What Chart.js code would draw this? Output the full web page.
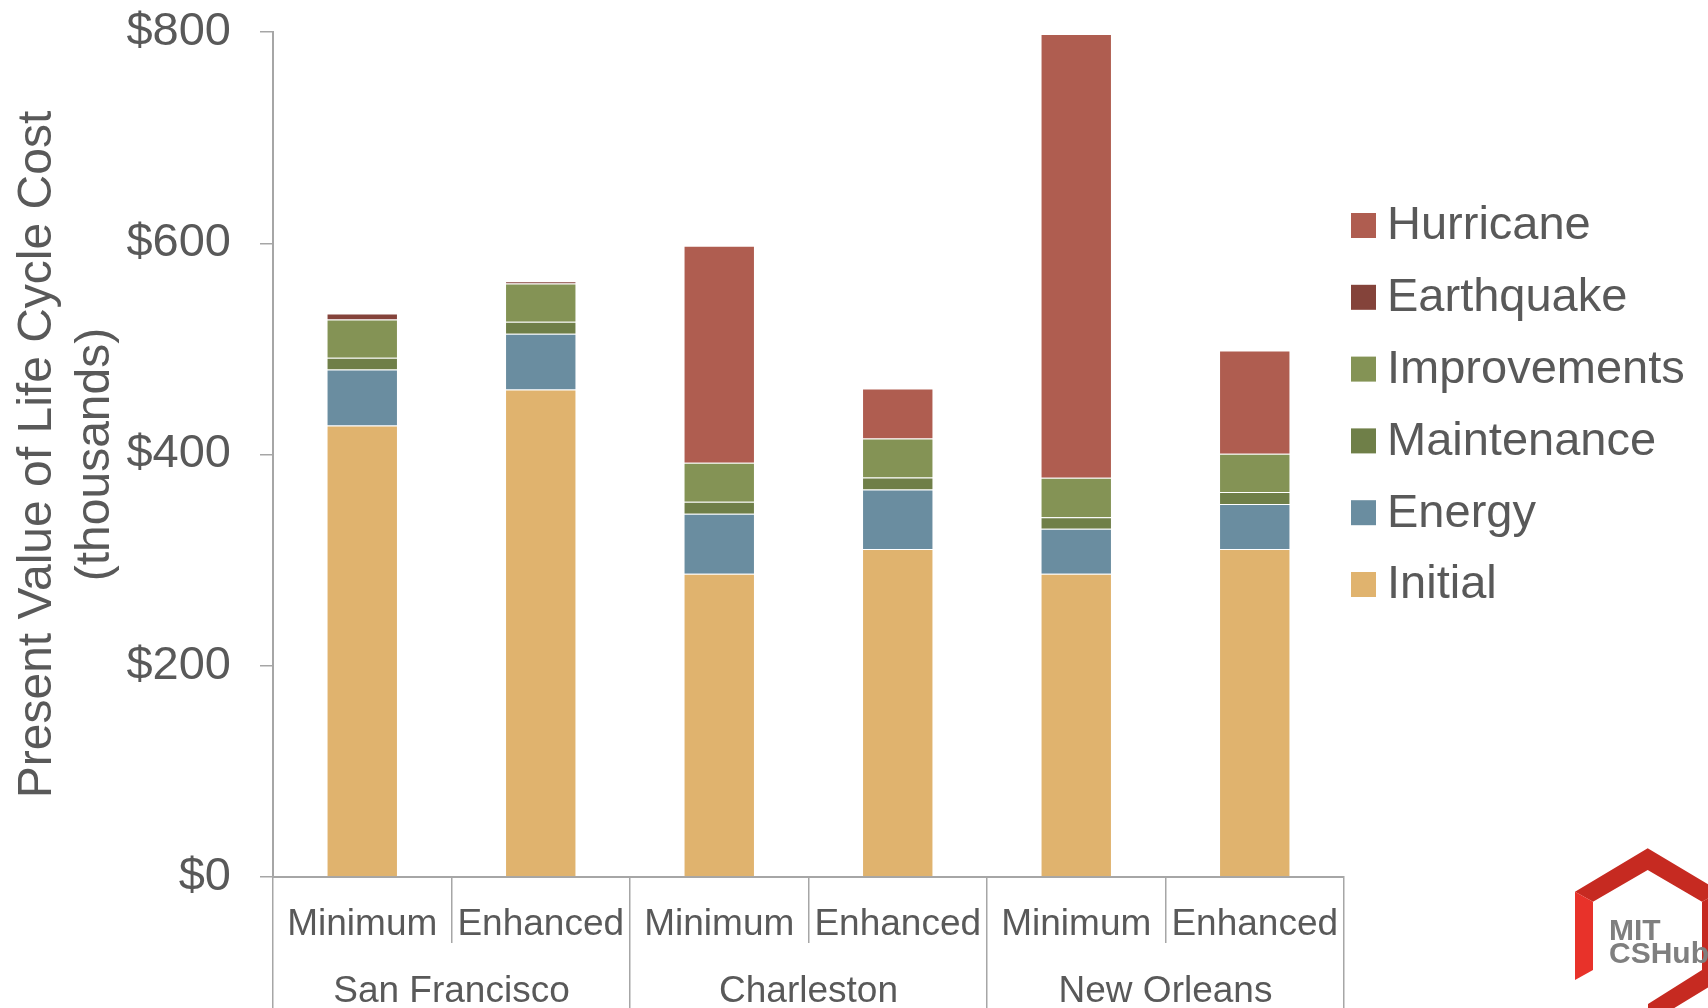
<!DOCTYPE html>
<html>
<head>
<meta charset="utf-8">
<title>Present Value of Life Cycle Cost</title>
<script src="https://cdn.jsdelivr.net/npm/chart.js@4.4.1/dist/chart.umd.min.js"></script>
<style>
  body { margin: 0; background: #fff; }
  #wrap { width: 1708px; height: 1008px; position: relative; }
</style>
</head>
<body>
<div id="wrap"><canvas id="lcc"></canvas></div>
<script>
// two building designs per city
const designs = ['Minimum', 'Enhanced', 'Minimum', 'Enhanced', 'Minimum', 'Enhanced'];
const cities = ['San Francisco', 'Charleston', 'New Orleans'];

// present value of each cost item, $ thousands
const initial      = [427.5, 461.5, 287, 310.5, 287, 310.5];
const energy       = [52.9, 52.9, 56.8, 56.3, 42.7, 42.7];
const maintenance  = [11.2, 11.2, 11.4, 11.4, 10.9, 11.3];
const improvements = [36.2, 36.2, 37.0, 36.9, 37.4, 36.2];
const earthquake   = [5.8, 2.2, null, null, null, null];
const hurricane    = [null, null, 205.4, 47.4, 420.1, 97.7];

const yMax = 800;
const yStep = 200;

const axisGray = '#a6a6a6';
const textGray = '#595959';

Chart.defaults.font.family = "'Liberation Sans', Arial, sans-serif";
Chart.defaults.color = textGray;

// legend drawn by hand so it can sit right next to the plot
const sideLegend = {
  id: 'sideLegend',
  afterDraw(chart) {
    const ctx = chart.ctx;
    const sets = chart.data.datasets.slice().reverse();
    const x = chart.chartArea.right + 7;
    ctx.save();
    ctx.font = "47px 'Liberation Sans', Arial, sans-serif";
    ctx.textBaseline = 'middle';
    sets.forEach((ds, i) => {
      const y = 225.5 + i * 71.8;
      ctx.fillStyle = ds.backgroundColor;
      ctx.fillRect(x, y - 12.5, 25, 25);
      ctx.fillStyle = textGray;
      ctx.fillText(ds.label, x + 36, y + 1);
    });
    ctx.restore();
  }
};

// CSHub badge in the corner
const badge = {
  id: 'badge',
  afterDraw(chart) {
    const ctx = chart.ctx;
    ctx.save();
    ctx.fillStyle = '#c62a21';
    ctx.beginPath();
    ctx.moveTo(1575, 891.7);
    ctx.lineTo(1647.7, 848.3);
    ctx.lineTo(1720.4, 891.7);
    ctx.lineTo(1702, 901.7);
    ctx.lineTo(1647.7, 870);
    ctx.lineTo(1593, 901.7);
    ctx.closePath();
    ctx.fill();
    ctx.beginPath();
    ctx.moveTo(1702, 901.7);
    ctx.lineTo(1720.4, 891.7);
    ctx.lineTo(1720.4, 980);
    ctx.lineTo(1648, 1024);
    ctx.lineTo(1648, 1004);
    ctx.lineTo(1702, 970);
    ctx.closePath();
    ctx.fill();
    ctx.fillStyle = '#e8322a';
    ctx.beginPath();
    ctx.moveTo(1575, 891.7);
    ctx.lineTo(1593, 901.7);
    ctx.lineTo(1593, 970);
    ctx.lineTo(1575, 980);
    ctx.closePath();
    ctx.fill();
    ctx.fillStyle = '#7f7f7f';
    ctx.font = "bold 30px 'Liberation Sans', Arial, sans-serif";
    ctx.fillText('MIT', 1609, 940);
    ctx.fillText('CSHub', 1609, 963);
    ctx.restore();
  }
};

new Chart(document.getElementById('lcc'), {
  type: 'bar',
  data: {
    labels: designs,
    datasets: [
      {label: 'Initial', data: initial, backgroundColor: '#e0b36e'},
      {label: 'Energy', data: energy, backgroundColor: '#6a8da0'},
      {label: 'Maintenance', data: maintenance, backgroundColor: '#6f7f48'},
      {label: 'Improvements', data: improvements, backgroundColor: '#849355'},
      {label: 'Earthquake', data: earthquake, backgroundColor: '#84433a'},
      {label: 'Hurricane', data: hurricane, backgroundColor: '#af5d50'}
    ]
  },
  options: {
    responsive: true,
    maintainAspectRatio: false,
    animation: false,
    layout: {padding: {top: 32, right: 364, bottom: 0, left: 0}},
    datasets: {
      bar: {
        categoryPercentage: 1,
        barPercentage: 0.4,
        borderWidth: 1,
        borderColor: 'rgba(255,255,255,0.25)'
      }
    },
    plugins: {
      legend: {display: false},
      tooltip: {enabled: false}
    },
    scales: {
      x: {
        stacked: true,
        offset: true,
        grid: {offset: true, drawOnChartArea: false, tickLength: 66, color: axisGray, lineWidth: 1.5},
        border: {color: axisGray, width: 2},
        ticks: {font: {size: 37}, padding: -40.5, maxRotation: 0, minRotation: 0, autoSkip: false},
        afterFit: s => { s.height = 66; }
      },
      cities: {
        type: 'category',
        labels: cities,
        position: 'bottom',
        weight: 1,
        offset: true,
        grid: {offset: true, drawOnChartArea: false, tickLength: 65, color: axisGray, lineWidth: 1.5},
        border: {display: false},
        ticks: {font: {size: 37}, padding: -38, maxRotation: 0, minRotation: 0, autoSkip: false},
        afterFit: s => { s.height = 65; }
      },
      y: {
        stacked: true,
        min: 0,
        max: yMax,
        ticks: {stepSize: yStep, font: {size: 47}, padding: 29, callback: v => '$' + v},
        grid: {drawOnChartArea: false, tickLength: 13, color: axisGray, lineWidth: 1.5},
        border: {color: axisGray, width: 2},
        title: {
          display: true,
          text: ['Present Value of Life Cycle Cost', '(thousands)'],
          font: {size: 48},
          padding: {top: 9, bottom: 0}
        },
        afterFit: s => {
          s.width = 273;
          s.paddingTop = 0;
          s.paddingBottom = 0;
        }
      }
    }
  },
  plugins: [sideLegend, badge]
});
</script>
</body>
</html>
